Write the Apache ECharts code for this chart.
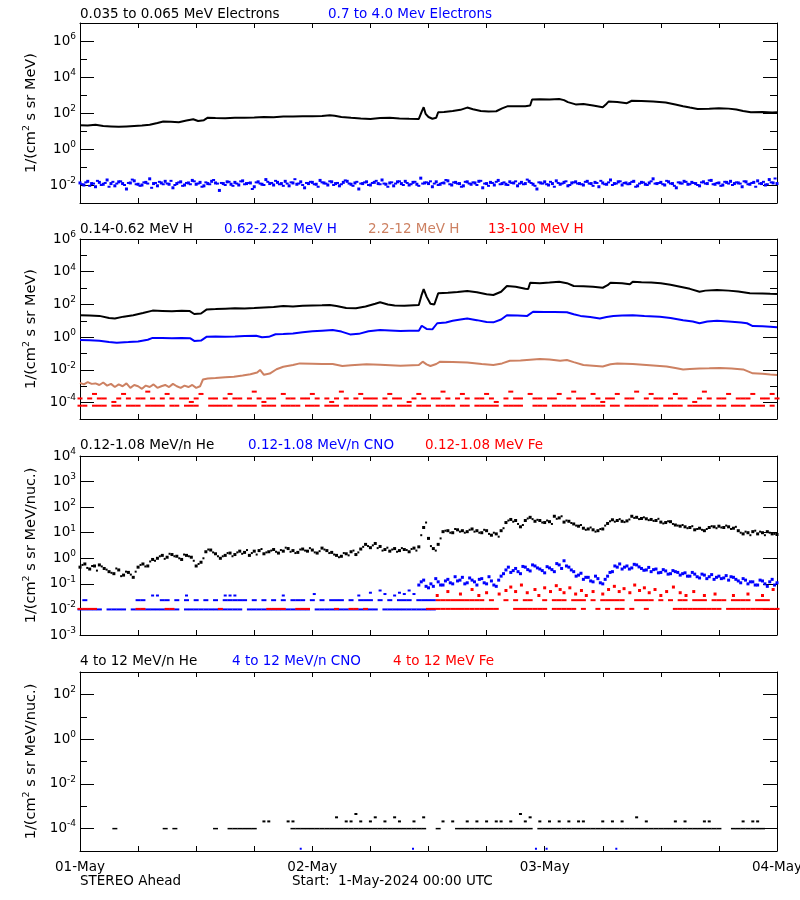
<!DOCTYPE html>
<html><head><meta charset="utf-8">
<script src="https://cdn.jsdelivr.net/npm/echarts@6/dist/echarts.min.js"></script>
<style>html,body{margin:0;background:#fff}#c{width:800px;height:900px}</style>
</head><body><div id="c"></div><script>
const _ = null;
// ---------- axis / tick data ----------
const dayLabels = ['01-May', '02-May', '03-May', '04-May'];
const yRanges = [[1e-3, 1e7], [1e-5, 1e6], [1e-3, 1e4], [1e-5, 1e3]];
const yMajor = [[1e-2, 1, 1e2, 1e4, 1e6], [1e-4, 1e-2, 1, 1e2, 1e4, 1e6], [1e-3, 1e-2, 1e-1, 1, 10, 100, 1e3, 1e4], [1e-4, 1e-2, 1, 1e2]];
const yMinor = [[1e-1, 10, 1e3, 1e5], [1e-3, 1e-1, 10, 1e3, 1e5], [], [1e-3, 1e-1, 10]];
const yNames = ['{m|1/(cm}{s|2}{m| s sr MeV)}', '{m|1/(cm}{s|2}{m| s sr MeV)}', '{m|1/(cm}{s|2}{m| s sr MeV/nuc.)}', '{m|1/(cm}{s|2}{m| s sr MeV/nuc.)}'];

// ---------- panel 1: electrons (hours, flux) ----------
const eLow = [[0,21],[0.8,20],[1.6,22],[2.4,19],[3.2,18],[4,17],[4.8,18],[5.6,19],[6.4,20],[7.2,22],[8,28],[8.6,34],[9.4,33],[10.2,31],[11,38],[11.7,45],[12.2,36],[12.8,40],[13.2,55],[14,53],[15,51],[16,54],[17,55],[18,57],[19,60],[20,58],[21,63],[22,64],[23,66],[24,65],[25,68],[25.8,74],[26,85],[26.3,70],[27,60],[28,54],[29,49],[30,47],[31,52],[32,54],[33,50],[34,48],[35,47],[35.3,120],[35.5,210],[35.7,90],[36,60],[36.4,48],[36.8,55],[37,110],[37.6,115],[38.5,130],[39.3,150],[40,200],[40.6,160],[41.4,130],[42.2,120],[43,125],[43.6,180],[44.2,240],[45,235],[46,240],[46.5,260],[46.7,560],[47.5,580],[48.5,560],[49.5,600],[50,520],[50.4,400],[51.2,300],[52,320],[53,260],[54,210],[54.4,330],[54.6,430],[55.5,410],[56.5,350],[57,480],[58,460],[59.2,430],[60.5,380],[61.5,300],[62.3,240],[63,200],[63.8,165],[65,170],[66,185],[67,175],[67.8,155],[68.5,130],[69.3,110],[70.5,115],[71.5,108],[72,110]];
// 0.7-4.0 MeV electrons, one value every 0.4 h (two interleaved samplings)
const eHi = [
.013,.010,.016,.012,.008,.014,.011,.019,.012,.009,
.015,.012,.006,.013,.017,.011,.010,.014,.022,.012,
.009,.013,.016,.011,.007,.012,.015,.010,.013,.018,
.011,.014,.009,.012,.016,.013,.005,.012,.015,.011,
.014,.010,.017,.012,.013,.008,.015,.011,.020,.012,
.010,.014,.012,.016,.009,.013,.011,.015,.007,.012,
.014,.011,.018,.013,.010,.015,.012,.009,.014,.016,
.011,.013,.006,.012,.015,.010,.014,.012,.019,.011,
.013,.009,.015,.012,.016,.010,.014,.011,.024,.013,
.012,.008,.015,.011,.013,.017,.010,.014,.012,.009,
.015,.011,.013,.016,.007,.012,.014,.010,.018,.012,
.011,.015,.013,.009,.014,.012,.016,.011,.006,.013,
.015,.010,.012,.017,.011,.014,.009,.013,.015,.012,
.010,.016,.012,.014,.008,.013,.011,.019,.012,.015,
.010,.013,.012,.016,.009,.014,.011,.013,.022,.012,
.014,.010,.015,.012,.007,.013,.016,.011,.014,.012,
.009,.015,.012,.018,.011,.013,.010,.014,.016,.012,
.013,.008,.015,.011,.014,.017,.012,.010,.020,.013,
.012];
const eHi2 = [
.011,.014,.009,.012,.017,.010,.013,.008,.015,.012,
.016,.010,.013,.020,.011,.009,.014,.012,.007,.013,
.015,.011,.012,.017,.010,.014,.009,.013,.011,.016,
.012,.008,.014,.011,.019,.012,.013,.010,.015,.009,
.012,.016,.011,.013,.006,.014,.012,.010,.015,.013,
.017,.011,.009,.012,.014,.021,.012,.010,.013,.015,
.011,.008,.014,.012,.016,.010,.013,.011,.018,.012,
.009,.015,.012,.014,.010,.013,.017,.011,.012,.008,
.014,.012,.016,.010,.013,.011,.015,.009,.012,.014,
.016,.012,.010,.013,.019,.011,.014,.012,.008,.015,
.012,.014,.010,.017,.012,.009,.013,.015,.011,.014,
.010,.013,.016,.012,.011,.020,.013,.009,.014,.012,
.011,.015,.008,.013,.012,.016,.010,.014,.012,.011,
.015,.012,.009,.013,.017,.011,.014,.010,.012,.016,
.013,.011,.015,.008,.012,.014,.010,.016,.012,.013,
.011,.017,.012,.009,.014,.012,.015,.011,.013,.010,
.014,.012,.018,.011,.013,.009,.015,.012,.010,.014,
.012,.016,.011,.013,.008,.012,.015,.011,.014,.023,
.012];

// ---------- panel 2: protons ----------
const hLow = [[0,22],[1,21],[2,20],[3,15],[3.6,14],[4.5,18],[5.5,22],[6.5,30],[7.5,42],[8.5,40],[9.5,38],[10.5,41],[11.3,40],[11.8,26],[12.5,28],[13.1,50],[14,52],[15,55],[16,58],[17,57],[18,60],[19,66],[20,70],[21,80],[22,75],[23,82],[24,85],[25,88],[25.8,93],[26.5,80],[27.5,60],[28.5,58],[29.5,75],[30.5,110],[31,135],[31.8,100],[32.5,85],[33.5,83],[34.5,90],[35,93],[35.3,400],[35.5,870],[35.8,300],[36.2,110],[36.6,100],[37,480],[38,520],[39,580],[40,660],[41,560],[42,420],[42.7,380],[43.5,600],[44.1,1350],[45,1200],[46,900],[46.3,870],[46.5,2140],[47.5,2000],[48.5,2200],[49.5,2450],[50.3,2000],[51,1350],[52,1300],[53,1200],[54,1050],[54.5,1500],[54.8,2140],[56,2000],[56.8,1700],[57.1,2450],[58,2300],[59,2200],[60,1950],[61,1600],[62,1200],[63,900],[64,600],[64.6,700],[65.8,760],[67,700],[68,620],[69.2,480],[70.5,470],[71.3,450],[72,440]];
const hMid = [[0,0.68],[1,0.66],[2,0.6],[3,0.5],[3.8,0.46],[5,0.5],[6,0.55],[7,0.7],[7.5,0.9],[8.5,0.88],[9.5,0.86],[10.5,0.9],[11.4,0.85],[11.8,0.59],[12.5,0.62],[13.1,1.07],[14,1.1],[15,1.05],[16,1.12],[17,1.2],[18.2,1.23],[18.8,0.98],[19.5,1.05],[20.2,1.5],[21,1.55],[22,1.7],[23,2.0],[24,2.3],[25,2.5],[26.1,2.75],[27,2.2],[27.9,1.48],[28.8,1.6],[29.8,2.3],[31,2.75],[32,2.6],[33.1,2.4],[34,2.5],[35,2.5],[35.3,5],[35.5,6.2],[35.8,3.2],[36.4,3],[36.9,7.1],[37.8,8],[38.5,10],[39.3,12],[40,14],[41,11],[42,8.5],[42.7,8.1],[43.5,12],[44.1,22],[45.2,21],[46.2,20],[46.8,36],[48,34],[49,35],[50.3,33],[51,25],[51.7,20],[52.7,17],[53.7,14],[54.4,17],[55.1,20],[56,21],[57.1,22],[58.3,20],[59.9,18],[61,15],[62.3,11],[63.3,9],[64,7.1],[64.8,9],[65.8,10],[67,9],[68.3,8],[68.9,7.1],[69.5,4.8],[70.5,4.6],[71.3,4.3],[72,4]];
const hHi = [[0,1.6e-3],[0.4,1.3e-3],[0.8,1.8e-3],[1.2,1.4e-3],[1.6,1.5e-3],[2,1.2e-3],[2.4,1.7e-3],[2.8,1.1e-3],[3.2,1.4e-3],[3.6,0.9e-3],[4,1.3e-3],[4.4,1.0e-3],[4.8,1.5e-3],[5.2,0.8e-3],[5.6,1.2e-3],[6,1.0e-3],[6.4,0.7e-3],[6.8,1.1e-3],[7.2,0.9e-3],[7.6,1.3e-3],[8,0.8e-3],[8.4,1.0e-3],[8.8,1.2e-3],[9.2,0.9e-3],[9.6,1.4e-3],[10,1.0e-3],[10.4,0.8e-3],[10.8,1.1e-3],[11.2,0.9e-3],[11.6,1.2e-3],[12,0.8e-3],[12.4,1.0e-3],[12.7,2.6e-3],[13.2,3.0e-3],[14,3.2e-3],[15,3.5e-3],[15.9,3.8e-3],[16.8,4.5e-3],[17.6,5.5e-3],[18.3,7e-3],[18.6,1e-2],[19,5e-3],[19.6,6e-3],[20.3,1.1e-2],[21,1.55e-2],[22,2e-2],[22.7,2.5e-2],[24,2.4e-2],[25,2.3e-2],[26.1,2.3e-2],[27.1,1.74e-2],[28,1.9e-2],[29.6,2.2e-2],[31,2.1e-2],[33.1,1.8e-2],[35,2e-2],[35.4,3.2e-2],[35.8,2.2e-2],[36.2,1.74e-2],[36.8,2.3e-2],[37.2,3.2e-2],[38.5,3e-2],[40,2.8e-2],[41.5,2.3e-2],[42.7,2e-2],[43.6,2.5e-2],[44.4,3.6e-2],[45.5,3.8e-2],[46.5,4.2e-2],[47.5,4.6e-2],[48.5,4.3e-2],[49.6,3.6e-2],[50.3,4e-2],[51,3e-2],[52,2e-2],[53,1.8e-2],[54,1.6e-2],[54.8,2.2e-2],[55.5,2.5e-2],[57.1,2.3e-2],[58.5,2e-2],[60.6,1.6e-2],[61.5,1.3e-2],[62.3,1.07e-2],[63,1.15e-2],[64,1.23e-2],[65,1.25e-2],[66.1,1.3e-2],[67.3,1.2e-2],[68.5,1.07e-2],[69.5,6.2e-3],[70.5,5.8e-3],[71.3,5.2e-3],[72,4.9e-3]];
// 13-100 MeV H, one value every 0.5 h (two count levels)
const hRedUp = [
1.8e-4,_,1.8e-4,3.4e-4,1.8e-4,1.8e-4,_,1.1e-4,1.8e-4,3.4e-4,
1.8e-4,_,1.8e-4,1.8e-4,4.7e-4,1.8e-4,_,1.8e-4,3.4e-4,1.8e-4,
_,1.8e-4,1.8e-4,1.1e-4,1.8e-4,3.4e-4,_,1.8e-4,1.8e-4,_,
1.8e-4,3.4e-4,1.8e-4,1.8e-4,_,1.8e-4,4.7e-4,1.8e-4,1.1e-4,1.8e-4,
1.8e-4,_,3.4e-4,1.8e-4,1.8e-4,_,1.8e-4,1.8e-4,3.4e-4,1.8e-4,
_,1.8e-4,1.1e-4,1.8e-4,4.7e-4,1.8e-4,_,1.8e-4,3.4e-4,1.8e-4,
1.8e-4,1.8e-4,_,1.8e-4,3.4e-4,1.8e-4,1.8e-4,_,1.1e-4,1.8e-4,
3.4e-4,1.8e-4,_,1.8e-4,1.8e-4,4.7e-4,1.8e-4,_,1.8e-4,3.4e-4,
1.8e-4,_,1.8e-4,1.8e-4,3.4e-4,1.8e-4,1.1e-4,_,1.8e-4,4.7e-4,
1.8e-4,1.8e-4,_,3.4e-4,1.8e-4,1.8e-4,_,1.8e-4,1.8e-4,3.4e-4,
_,1.8e-4,4.7e-4,1.8e-4,1.8e-4,_,3.4e-4,1.8e-4,1.1e-4,1.8e-4,
1.8e-4,3.4e-4,_,1.8e-4,1.8e-4,4.7e-4,_,1.8e-4,3.4e-4,1.8e-4,
1.8e-4,_,1.8e-4,3.4e-4,1.8e-4,1.8e-4,_,1.1e-4,1.8e-4,4.7e-4,
1.8e-4,_,1.8e-4,1.8e-4,3.4e-4,_,1.8e-4,1.8e-4,1.8e-4,3.4e-4,
_,1.8e-4,1.8e-4,3.4e-4,1.8e-4];
const hRedLo = [
6.5e-5,6.5e-5,_,6.5e-5,6.5e-5,6.5e-5,_,6.5e-5,6.5e-5,_,
6.5e-5,6.5e-5,6.5e-5,_,6.5e-5,6.5e-5,6.5e-5,6.5e-5,_,6.5e-5,
6.5e-5,_,6.5e-5,6.5e-5,6.5e-5,_,_,6.5e-5,6.5e-5,6.5e-5,
6.5e-5,6.5e-5,_,6.5e-5,6.5e-5,6.5e-5,6.5e-5,_,6.5e-5,6.5e-5,
6.5e-5,_,6.5e-5,6.5e-5,6.5e-5,6.5e-5,_,6.5e-5,6.5e-5,6.5e-5,
_,6.5e-5,6.5e-5,6.5e-5,_,6.5e-5,6.5e-5,6.5e-5,6.5e-5,6.5e-5,
6.5e-5,6.5e-5,_,6.5e-5,6.5e-5,_,6.5e-5,6.5e-5,6.5e-5,_,
6.5e-5,6.5e-5,6.5e-5,_,6.5e-5,6.5e-5,6.5e-5,6.5e-5,_,6.5e-5,
6.5e-5,_,6.5e-5,6.5e-5,6.5e-5,6.5e-5,6.5e-5,_,6.5e-5,6.5e-5,
6.5e-5,6.5e-5,_,_,6.5e-5,6.5e-5,6.5e-5,_,6.5e-5,6.5e-5,
6.5e-5,6.5e-5,6.5e-5,_,6.5e-5,6.5e-5,6.5e-5,6.5e-5,6.5e-5,_,
6.5e-5,6.5e-5,_,6.5e-5,6.5e-5,6.5e-5,6.5e-5,6.5e-5,6.5e-5,6.5e-5,
_,6.5e-5,6.5e-5,6.5e-5,6.5e-5,_,6.5e-5,6.5e-5,6.5e-5,6.5e-5,
6.5e-5,_,6.5e-5,6.5e-5,_,6.5e-5,6.5e-5,6.5e-5,_,6.5e-5,
6.5e-5,6.5e-5,_,6.5e-5,_];

// ---------- panel 3: 0.12-1.08 MeV/n ions ----------
// He, one value every 0.5 h, plus a second sampling offset by 0.25 h
const heLow = [
.45,.6,.38,.5,.55,.4,.3,.25,.35,.22,
.28,.18,.45,.6,.5,.9,1.0,1.3,1.1,1.4,
1.2,.9,1.3,1.1,.5,.7,1.8,2.1,1.5,1.0,
1.3,1.6,1.4,1.9,1.7,1.3,1.9,2.0,1.5,1.8,
2.2,1.6,1.9,2.4,2.0,1.7,2.3,1.9,2.1,1.6,
2.5,2.0,1.7,1.3,1.2,1.5,1.8,1.4,2.3,3.5,
2.6,3.8,2.9,2.2,1.9,2.4,2.0,2.2,1.8,2.5,
2.8,16,6,2.4,3.5,11,12,10,13,12,
11,14,12,10,12,8,9,12,25,33,
30,17,30,40,28,30,25,27,44,38,
26,28,22,18,15,14,13,12,14,23,
32,30,28,29,44,40,36,35,33,30,
26,25,27,20,18,17,16,13,15,12,
16,17,18,16,17,15,12,9,10,11,
9,10,11,9,8.5];
const heLow2 = [
.55,.42,.5,.33,.48,.36,.27,.4,.2,.3,
.23,.3,.55,.48,.75,.8,1.2,.95,1.5,1.2,
1.0,1.4,1.2,.8,.6,1.0,2.2,1.7,1.2,1.2,
1.6,1.2,1.7,1.5,2.1,1.6,1.4,2.3,1.7,2.0,
1.8,2.1,2.6,1.8,1.6,2.2,2.0,2.5,1.7,1.9,
2.2,1.6,1.4,1.1,1.6,1.3,2.0,1.7,2.8,3.0,
3.2,2.5,2.0,2.6,2.2,1.8,2.5,2.1,2.3,2.0,
8,25,3,2.0,6,12,10,14,11,10,
13,11,10,13,9,10,7,15,30,27,
22,20,36,34,32,25,30,22,35,44,
30,24,19,20,13,16,11,14,19,28,
27,34,26,33,38,34,40,31,29,35,
23,28,22,19,20,15,18,14,13,14,
18,15,16,19,14,17,10,11,8,12,
11,8,10,9];
// CNO: hours at the 1-count level (1e-2) and 2-count level (2.3e-2)
const cnoBaseHours = [0,0.5,1,1.5,2,3,3.5,4,4.5,5.5,6,6.5,7,7.5,8,8.5,9,9.5,10,11,11.5,12,12.5,13,13.5,14,14.5,15,15.5,16,16.5,17.5,18,18.5,19,19.5,20,20.5,21,21.5,22,22.5,23,23.5,24.5,25,25.5,26,26.5,27,27.5,28,28.5,29,29.5,30,30.5,31.5,32,32.5,33,33.5,34,34.5,35,35.5,36,36.5];
const cnoL2Hours = [0.5,6,6.5,8.5,9,10,11,12,13,14,15,15.5,16,16.5,17,18,19,20,21,22,22.5,23,24,25,26,26.5,27,28,29,29.5,30,31,32,33,33.5,34,35,35.5,36,36.5];
const cnoEarly = [[7.5,3.5e-2],[8,3.5e-2],[11,3.5e-2],[15,3.5e-2],[15.5,3.5e-2],[16,3.5e-2],[21,3.5e-2],[24.2,4e-2],[28.8,3.5e-2],[30,4.5e-2],[31,5.5e-2],[31.5,4e-2],[32.5,3.5e-2],[33,4.5e-2],[33.5,4e-2],[34,5.5e-2],[34.5,4e-2]];
// CNO from 35 h to 72 h, every 0.5 h (two samplings)
const cnoLateA = [
.09,.14,.07,.08,.12,.09,.15,.10,.13,.18,
.11,.14,.09,.16,.10,.13,.08,.20,.35,.28,
.40,.25,.45,.32,.50,.38,.27,.42,.30,.55,
.80,.45,.30,.22,.15,.18,.12,.16,.10,.20,
.30,.45,.38,.50,.42,.55,.40,.35,.30,.38,
.28,.32,.25,.30,.22,.27,.20,.24,.17,.22,
.19,.15,.20,.17,.14,.18,.13,.16,.10,.12,
.09,.13,.08,.15,.11];
const cnoLateB = [
.12,.08,.10,.16,.09,.13,.11,.19,.14,.10,
.17,.12,.15,.11,.19,.09,.14,.25,.45,.33,
.30,.48,.36,.55,.42,.33,.47,.36,.62,.40,
.50,.35,.20,.26,.18,.13,.20,.11,.15,.28,
.50,.60,.45,.38,.58,.46,.34,.44,.36,.27,
.36,.24,.33,.28,.25,.20,.28,.19,.24,.16,
.23,.18,.16,.21,.19,.15,.11,.14,.12,.09,
.14,.10,.12,.09,.13];
// Fe
const feBaseHours = [0,0.5,1,1.5,6,6.5,9,9.5,14.5,19.5,20,20.5,21,22.5,23,23.5,26.5,28,28.5,29.5,36,36.5,37,37.5,38,38.5,39,39.5,40,40.5,41,41.5,42,42.5,43,45,45.5,46,46.5,47,47.5,48,49,49.5,50,50.5,51,52,53.5,54.5,55.5,56,57,58.5,61.5,62,62.5,63,63.5,64,64.5,65,65.5,66,67,67.5,68,68.5,69,69.5,70,70.5,71,71.5,72];
const feL2Hours = [37,37.5,38,38.5,39,39.5,40,40.5,41,41.5,42.5,44,45,46,46.5,48,49,49.5,50,51,51.5,52,53,54,54.5,55,55.5,56,57.5,58,58.5,59,60,61,62,62.5,63.5,64,64.5,65.5,66,66.5,67.5,68,68.5,69,70,70.5,71];
const feVar = [[36.9,0.035],[38,0.05],[39.3,0.04],[40.5,0.06],[41.2,0.035],[42,0.045],[43.3,0.04],[44,0.055],[44.5,0.075],[45,0.05],[45.6,0.09],[46.2,0.045],[47,0.06],[47.4,0.035],[48,0.07],[48.6,0.05],[49.2,0.085],[49.6,0.06],[50,0.045],[50.6,0.07],[51.2,0.04],[51.8,0.055],[52.3,0.035],[53,0.05],[54,0.04],[54.6,0.06],[55.2,0.08],[55.7,0.05],[56.2,0.065],[56.8,0.045],[57.3,0.09],[57.8,0.055],[58.3,0.07],[58.8,0.045],[59.4,0.06],[60,0.035],[60.6,0.05],[61.3,0.075],[62,0.045],[62.6,0.035],[63.4,0.05],[64.5,0.035],[65.6,0.04],[67.5,0.035],[69,0.04],[70.5,0.035],[71.6,0.06]];

// ---------- panel 4: 4-12 MeV/n ions ----------
const he4BaseHours = [3.6,8.8,9.8,14,15.5,16,16.5,17,17.5,18,22,22.5,23,23.5,24,24.5,25,25.5,26,26.5,27,27.5,28,28.5,29,29.5,30,30.5,31,31.5,32,32.5,33,33.5,34,34.5,35,35.5,37,39,39.5,40,40.5,41,41.5,42,42.5,43,43.5,44,44.5,45,45.5,46,46.5,47.5,48,48.5,49,49.5,50,50.5,51,51.5,52,52.5,53,53.5,54,54.5,55,55.5,56,56.5,57,57.5,58,58.5,59,59.5,60,60.5,61,61.5,62,62.5,63,63.5,64,64.5,65,65.5,66,67.5,68,68.5,69,69.5,70,70.5];
const he4Up = [[19,2.1e-4],[19.5,2.1e-4],[21.5,2.1e-4],[22,2.1e-4],[26.5,3.2e-4],[27.5,2.1e-4],[28,2.1e-4],[28.5,4.5e-4],[29,2.1e-4],[30,2.1e-4],[30.5,3.2e-4],[31.5,2.1e-4],[32.5,3.2e-4],[33,2.1e-4],[34.5,2.1e-4],[35.5,3.2e-4],[37.5,2.1e-4],[38.5,2.1e-4],[40,2.1e-4],[41,2.1e-4],[42,2.1e-4],[43,2.1e-4],[43.5,2.1e-4],[44.5,2.1e-4],[45.5,4.5e-4],[46,2.1e-4],[46.5,3.2e-4],[47.5,2.1e-4],[48.5,2.1e-4],[49.5,2.1e-4],[50.5,2.1e-4],[51.5,2.1e-4],[52,2.1e-4],[54,2.1e-4],[55,2.1e-4],[56,2.1e-4],[57.5,3.2e-4],[58.5,2.1e-4],[61.5,2.1e-4],[62.5,2.1e-4],[64.5,2.1e-4],[65,2.1e-4],[68.5,2.1e-4],[69.5,2.1e-4],[70,2.1e-4]];
const cno4 = [[22.8,1.26e-5],[34.4,1.26e-5],[47.1,1.26e-5],[48.2,1.26e-5],[55.4,1.26e-5]];

// ---------- build ----------
const FF = '"DejaVu Sans", sans-serif';
const FS = 13.5;
const BLUE = '#0000ff', RED = '#ff0000', BROWN = '#cd8162', BLACK = '#000000';
const gridPos = [[23, 180], [239, 180], [456, 179], [672, 179]];

const stepPts = (vals, h0, dh) => vals.map((v, i) => [h0 + i * dh, v]).filter(p => p[1] != null);
const levelPts = (hours, level) => hours.map(h => [h, level]);

const grid = gridPos.map(g => ({ left: 80, width: 697, top: g[0], height: g[1], outerBoundsMode: 'none', containLabel: false }));
const xAxis = [], yAxis = [];
const supRich = {
  a: { fontSize: FS, fontFamily: FF, color: '#000', lineHeight: 18 },
  b: { fontSize: 9, fontFamily: FF, color: '#000', lineHeight: 10, verticalAlign: 'top' }
};
const nameRich = {
  m: { fontSize: 14.5, fontFamily: FF, color: '#000', lineHeight: 19 },
  s: { fontSize: 9.5, fontFamily: FF, color: '#000', lineHeight: 10, verticalAlign: 'top' }
};
gridPos.forEach((g, i) => {
  const xb = {
    type: 'value', gridIndex: i, min: 0, max: 72, interval: 6, splitLine: { show: false },
    axisLine: { show: true, onZero: false, lineStyle: { color: '#000', width: 1 } },
    axisTick: { show: true, inside: true, length: 5, lineStyle: { color: '#000', width: 1 } }
  };
  xAxis.push(Object.assign({}, xb, {
    position: 'bottom',
    axisLabel: { show: i === 3, margin: 9, color: '#000', fontFamily: FF, fontSize: FS,
      formatter: v => (v % 24 === 0 ? dayLabels[v / 24] : '') }
  }));
  xAxis.push(Object.assign({}, xb, { position: 'top', axisLabel: { show: false } }));
  const yb = { type: 'log', logBase: 10, gridIndex: i, min: yRanges[i][0], max: yRanges[i][1],
    splitLine: { show: false }, minorTick: { show: false }, minorSplitLine: { show: false } };
  const line = { show: true, onZero: false, lineStyle: { color: '#000', width: 1 } };
  const tick = (vals, len) => ({ show: vals.length > 0, inside: true, length: len, customValues: vals, lineStyle: { color: '#000', width: 1 } });
  yAxis.push(Object.assign({}, yb, {
    position: 'left', axisLine: line, axisTick: tick(yMajor[i], 14),
    axisLabel: { customValues: yMajor[i], margin: 4, rich: supRich,
      formatter: v => '{a|10}{b|' + Math.round(Math.log10(v)) + '}' },
    name: yNames[i], nameLocation: 'middle', nameGap: 36,
    nameTextStyle: { fontSize: 14.5, fontFamily: FF, color: '#000', rich: nameRich }
  }));
  yAxis.push(Object.assign({}, yb, { position: 'left', axisLine: { show: false, onZero: false }, axisTick: tick(yMinor[i], 7), axisLabel: { show: false } }));
  yAxis.push(Object.assign({}, yb, { position: 'right', axisLine: line, axisTick: tick(yMajor[i], 14), axisLabel: { show: false } }));
  yAxis.push(Object.assign({}, yb, { position: 'right', axisLine: { show: false, onZero: false }, axisTick: tick(yMinor[i], 7), axisLabel: { show: false } }));
});

const sc = (data, color, size, p) => ({ type: 'scatter', xAxisIndex: 2 * p, yAxisIndex: 4 * p, data,
  symbol: 'rect', symbolSize: size, itemStyle: { color, opacity: 1 }, silent: true, animation: false, large: false });
const ln = (data, color, p) => ({ type: 'line', xAxisIndex: 2 * p, yAxisIndex: 4 * p, data,
  showSymbol: false, symbol: 'none', lineStyle: { color, width: 2 }, silent: true, animation: false });

const series = [
  ln(eLow, BLACK, 0),
  sc(stepPts(eHi, 0, 0.4), BLUE, [3, 3], 0),
  sc(stepPts(eHi2, 0.2, 0.4), BLUE, [3, 2], 0),
  ln(hLow, BLACK, 1),
  ln(hMid, BLUE, 1),
  ln(hHi, BROWN, 1),
  sc(stepPts(hRedUp, 0, 0.5), RED, [5, 2], 1),
  sc(stepPts(hRedLo, 0, 0.5), RED, [5, 2], 1),
  sc(stepPts(heLow, 0, 0.5), BLACK, [3, 3], 2),
  sc(stepPts(heLow2, 0.25, 0.5), BLACK, [2, 2], 2),
  sc(levelPts(cnoBaseHours, 1e-2), BLUE, [5, 2], 2),
  sc(levelPts(cnoL2Hours, 2.3e-2), BLUE, [5, 2], 2),
  sc(cnoEarly, BLUE, [3, 2], 2),
  sc(stepPts(cnoLateA, 35, 0.5), BLUE, [3, 3], 2),
  sc(stepPts(cnoLateB, 35.25, 0.5), BLUE, [3, 3], 2),
  sc(levelPts(feBaseHours, 1.05e-2), RED, [5, 2], 2),
  sc(levelPts(feL2Hours, 2.3e-2), RED, [5, 2], 2),
  sc(feVar, RED, [3, 3], 2),
  sc(levelPts(he4BaseHours, 1e-4), BLACK, [5, 1.5], 3),
  sc(he4Up, BLACK, [3, 2], 3),
  sc(cno4, BLUE, [2, 2], 3)
];

const txt = (x, y, text, color) => ({ type: 'text', x, y, silent: true,
  style: { text, fill: color, fontSize: FS, fontFamily: FF, verticalAlign: 'middle', align: 'left' } });
const graphic = [
  txt(80, 14, '0.035 to 0.065 MeV Electrons', BLACK), txt(328, 14, '0.7 to 4.0 Mev Electrons', BLUE),
  txt(80, 229, '0.14-0.62 MeV H', BLACK), txt(224, 229, '0.62-2.22 MeV H', BLUE),
  txt(368, 229, '2.2-12 MeV H', BROWN), txt(488, 229, '13-100 MeV H', RED),
  txt(80, 445, '0.12-1.08 MeV/n He', BLACK), txt(248, 445, '0.12-1.08 MeV/n CNO', BLUE), txt(425, 445, '0.12-1.08 MeV Fe', RED),
  txt(80, 661, '4 to 12 MeV/n He', BLACK), txt(232, 661, '4 to 12 MeV/n CNO', BLUE), txt(393, 661, '4 to 12 MeV Fe', RED),
  txt(80, 881, 'STEREO Ahead', BLACK), txt(292, 881, 'Start:  1-May-2024 00:00 UTC', BLACK)
];

const chart = echarts.init(document.getElementById('c'), null, { renderer: 'canvas' });
chart.setOption({ animation: false, backgroundColor: '#fff', grid, xAxis, yAxis, series, graphic });
</script></body></html>
